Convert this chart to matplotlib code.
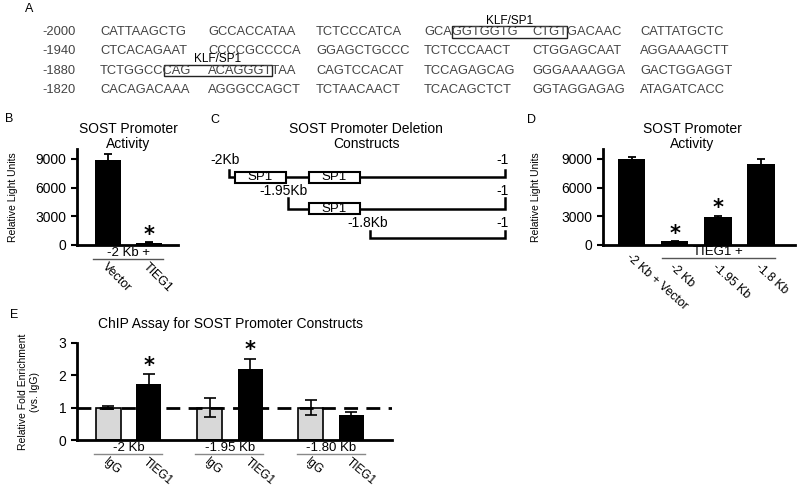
import numpy as np
import matplotlib
matplotlib.use('Agg')
import matplotlib.pyplot as plt
from matplotlib.patches import Rectangle
from matplotlib.lines import Line2D
from matplotlib.transforms import blended_transform_factory
from matplotlib.font_manager import FontProperties

plt.rcParams['font.family'] = 'Liberation Sans'

# ---- panel A: promoter sequence
seq_starts = ['-2000', '-1940', '-1880', '-1820']
seq_rows = [
    ['CATTAAGCTG', 'GCCACCATAA', 'TCTCCCATCA', 'GCAGGTGGTG', 'CTGTGACAAC', 'CATTATGCTC'],
    ['CTCACAGAAT', 'CCCCGCCCCA', 'GGAGCTGCCC', 'TCTCCCAACT', 'CTGGAGCAAT', 'AGGAAAGCTT'],
    ['TCTGGCCCAG', 'ACAGGGTTAA', 'CAGTCCACAT', 'TCCAGAGCAG', 'GGGAAAAGGA', 'GACTGGAGGT'],
    ['CACAGACAAA', 'AGGGCCAGCT', 'TCTAACAACT', 'TCACAGCTCT', 'GGTAGGAGAG', 'ATAGATCACC'],
]
# KLF/SP1 sites: (row, first group, chars before box, last group, chars boxed in last group)
klf_sites = [(0, 3, 3, 4, 4), (2, 0, 7, 1, 7)]

# ---- panel B
b_labels = ['Vector', 'TIEG1']
b_vals = [8850, 250]
b_err = [720, 40]
b_sig = [False, True]

# ---- panel C: deletion constructs (schematic units)
c_labels = ['-2Kb', '-1.95Kb', '-1.8Kb']
c_start = [229, 288, 370]
c_end = 505
c_sp1 = [[235, 309], [309], []]

# ---- panel D
d_labels = ['-2 Kb + Vector', '-2 Kb', '-1.95 Kb', '-1.8 Kb']
d_vals = [8950, 380, 2950, 8450]
d_err = [220, 50, 120, 500]
d_sig = [False, True, True, False]

# ---- panel E
e_groups = ['-2 Kb', '-1.95 Kb', '-1.80 Kb']
e_igg = [1.0, 1.0, 1.0]
e_igg_err = [0.04, 0.30, 0.23]
e_tieg = [1.73, 2.19, 0.77]
e_tieg_err = [0.31, 0.33, 0.09]
e_sig = [True, True, False]

W, H = 800, 488
fig = plt.figure(figsize=(W / 100, H / 100), dpi=100)


def fx(x):
    return x / W


def fy(y):
    return 1 - y / H


def px_axes(l, t, r, b):
    return fig.add_axes([l / W, 1 - b / H, (r - l) / W, (b - t) / H])


def style(ax):
    ax.set_facecolor('none')
    for s in ['top', 'right']:
        ax.spines[s].set_visible(False)
    ax.spines['left'].set_linewidth(2)
    ax.spines['bottom'].set_linewidth(2)
    ax.tick_params(axis='y', length=4.5, width=1.5, labelsize=10, pad=3)
    ax.tick_params(axis='x', length=0, labelbottom=False)


def stars(ax, xs, vals, errs, sig, off):
    for x, v, e, s in zip(xs, vals, errs, sig):
        if s:
            ax.text(x, v + e + off, '*', ha='center', va='center',
                    fontsize=15, fontweight='bold', family='DejaVu Sans')


# panel letters
for lab, x, y in [('A', 25, 9), ('B', 5, 119), ('C', 210, 120), ('D', 527, 120), ('E', 10, 315)]:
    fig.text(fx(x), fy(y), lab, fontsize=9, va='center')

# ---- A
seq_font = FontProperties(family='Liberation Sans', size=9.3)
row_y = [32, 51, 71, 90]
group_x = [100 + 108 * k for k in range(6)]
for r, (start, groups) in enumerate(zip(seq_starts, seq_rows)):
    fig.text(fx(42), fy(row_y[r]), start, fontproperties=seq_font, color='#444', va='center')
    for k, g in enumerate(groups):
        fig.text(fx(group_x[k]), fy(row_y[r]), g, fontproperties=seq_font,
                 color='#444', va='center')

renderer = fig.canvas.get_renderer()


def text_w(s):
    w, h, d = renderer.get_text_width_height_descent(s, seq_font, ismath=False)
    return w


for row, g0, n0, g1, n1 in klf_sites:
    x0 = group_x[g0] + text_w(seq_rows[row][g0][:n0])
    x1 = group_x[g1] + text_w(seq_rows[row][g1][:n1])
    y = row_y[row]
    fig.add_artist(Rectangle((fx(x0), fy(y + 5.5)), (x1 - x0) / W, 11 / H,
                             transform=fig.transFigure, fill=False, lw=1, ec='#222'))
    fig.text(fx((x0 + x1) / 2), fy(y - 5.5), 'KLF/SP1', ha='center', va='bottom',
             fontsize=8.5)

# ---- B
axb = px_axes(77, 149.4, 178, 245)
style(axb)
xb = np.arange(len(b_vals))
axb.bar(xb, b_vals, width=0.63, color='black')
axb.errorbar(xb, b_vals, yerr=b_err, fmt='none', ecolor='black', elinewidth=1.3,
             capsize=3, capthick=1.3)
stars(axb, xb, b_vals, b_err, b_sig, 750)
axb.set_xlim(-0.75, 1.69)
axb.set_ylim(0, 10000)
axb.set_yticks([0, 3000, 6000, 9000])
axb.set_ylabel('Relative Light Units', fontsize=7.5)
axb.yaxis.set_label_coords(-0.58, 0.5)
fig.text(fx(128), fy(136.5), 'SOST Promoter\nActivity', ha='center', va='center',
         fontsize=10, linespacing=1.05)
tb = blended_transform_factory(axb.transData, fig.transFigure)
axb.text(0.5, fy(253), '-2 Kb +', transform=tb, ha='center', va='center', fontsize=9.5)
fig.add_artist(Line2D([-0.36, 1.33], [fy(258.5)] * 2, transform=tb, color='#555', lw=1))
for x, lab in zip(xb, b_labels):
    axb.text(x, fy(261), lab, transform=tb, rotation=-45, rotation_mode='anchor',
             ha='left', va='top', fontsize=9)

# ---- C
axc = px_axes(200, 150, 520, 250)
axc.set_xlim(200, 520)
axc.set_ylim(250, 150)
axc.axis('off')
fig.text(fx(366), fy(136.5), 'SOST Promoter Deletion\nConstructs', ha='center',
         va='center', fontsize=10, linespacing=1.05)
line_y = [177, 209, 238]
tick_h = [7, 11, 7]
lab_pos = [(210, 160, 'left'), (283, 191, 'center'), (368, 223, 'center')]
for i, lab in enumerate(c_labels):
    y = line_y[i]
    x0 = c_start[i]
    axc.plot([x0, x0, c_end, c_end], [y - tick_h[i], y, y, y - tick_h[i]],
             color='black', lw=1.8, solid_joinstyle='miter', zorder=1)
    for bx in c_sp1[i]:
        axc.add_patch(Rectangle((bx, y - 5.5), 51, 11, fc='white', ec='black',
                                lw=1.5, zorder=2))
        axc.text(bx + 25.5, y, 'SP1', ha='center', va='center', fontsize=9.5, zorder=3)
    lx, ly, ha = lab_pos[i]
    axc.text(lx, ly, lab, ha=ha, va='center', fontsize=10)
    axc.text(509, ly, '-1', ha='right', va='center', fontsize=10)

# ---- D
axd = px_axes(603, 149.4, 795, 245)
style(axd)
xd = np.arange(len(d_vals))
axd.bar(xd, d_vals, width=0.63, color='black')
axd.errorbar(xd, d_vals, yerr=d_err, fmt='none', ecolor='black', elinewidth=1.3,
             capsize=3, capthick=1.3)
stars(axd, xd, d_vals, d_err, d_sig, 750)
axd.set_xlim(-0.67, 3.79)
axd.set_ylim(0, 10000)
axd.set_yticks([0, 3000, 6000, 9000])
axd.set_ylabel('Relative Light Units', fontsize=7.5)
axd.yaxis.set_label_coords(-0.323, 0.5)
fig.text(fx(692), fy(136.5), 'SOST Promoter\nActivity', ha='center', va='center',
         fontsize=10, linespacing=1.05)
td = blended_transform_factory(axd.transData, fig.transFigure)
axd.text(2.0, fy(252), 'TIEG1 +', transform=td, ha='center', va='center', fontsize=9.5)
fig.add_artist(Line2D([0.7, 3.33], [fy(258)] * 2, transform=td, color='#555', lw=1))
for x, lab in zip(xd, d_labels):
    ytop = 251 if x == 0 else 261
    axd.text(x, fy(ytop), lab, transform=td, rotation=-42, rotation_mode='anchor',
             ha='left', va='top', fontsize=8.8)

# ---- E
axe = px_axes(77, 343, 392, 440)
style(axe)
xg = np.arange(len(e_groups)) * 2.5
axe.bar(xg, e_igg, width=0.62, color='#d8d8d8', edgecolor='black', lw=1.2)
axe.bar(xg + 1, e_tieg, width=0.62, color='black')
axe.errorbar(xg, e_igg, yerr=e_igg_err, fmt='none', ecolor='black', elinewidth=1.2,
             capsize=4, capthick=1.2)
axe.errorbar(xg + 1, e_tieg, yerr=e_tieg_err, fmt='none', ecolor='black', elinewidth=1.2,
             capsize=4, capthick=1.2)
stars(axe, xg + 1, e_tieg, e_tieg_err, e_sig, 0.25)
axe.axhline(1, color='black', lw=2, dashes=(5, 3), zorder=5)
axe.set_xlim(-0.77, 7.0)
axe.set_ylim(0, 3)
axe.set_yticks([0, 1, 2, 3])
axe.set_ylabel('Relative Fold Enrichment\n(vs. IgG)', fontsize=7.5, linespacing=1.3)
axe.yaxis.set_label_coords(-0.117, 0.5)
fig.text(fx(231), fy(324), 'ChIP Assay for SOST Promoter Constructs', ha='center',
         va='center', fontsize=10)
te = blended_transform_factory(axe.transData, fig.transFigure)
for x, g in zip(xg, e_groups):
    axe.text(x + 0.5, fy(448), g, transform=te, ha='center', va='center', fontsize=9.5)
    fig.add_artist(Line2D([x - 0.35, x + 1.33], [fy(454)] * 2, transform=te,
                          color='#888', lw=1))
    for dx, lab in [(0, 'IgG'), (1, 'TIEG1')]:
        axe.text(x + dx, fy(456), lab, transform=te, rotation=-40, rotation_mode='anchor',
                 ha='left', va='top', fontsize=8.5)

fig.savefig('out.png', dpi=100)
